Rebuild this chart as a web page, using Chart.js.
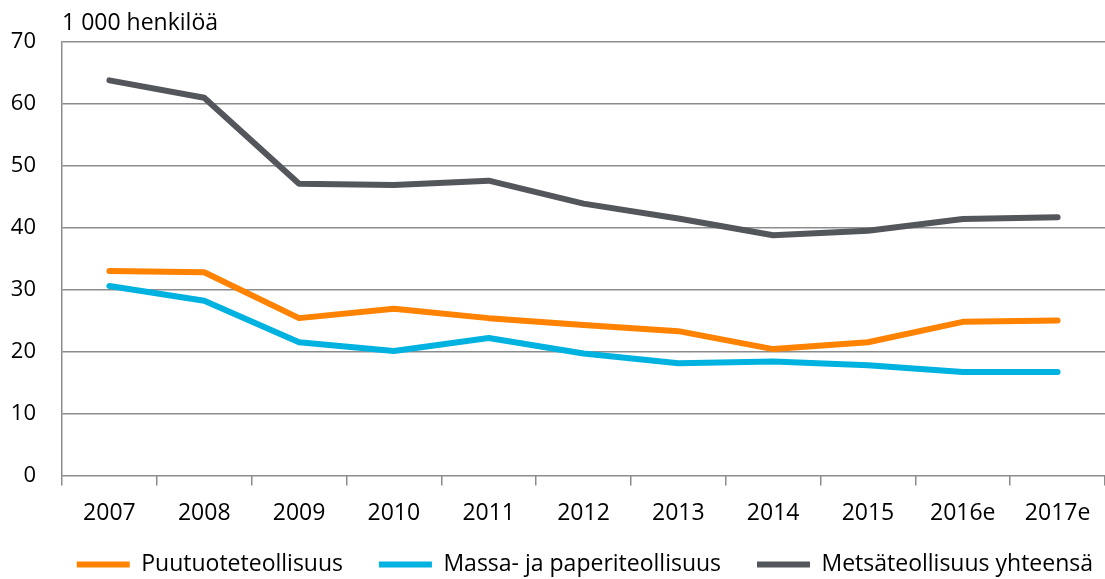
<!DOCTYPE html>
<html>
<head>
<meta charset="utf-8">
<script src="https://cdn.jsdelivr.net/npm/chart.js@4/dist/chart.umd.min.js"></script>
<style>
html,body{margin:0;padding:0;background:#fff;}
#wrap{width:1105px;height:579px;position:relative;}
</style>
</head>
<body>
<div id="wrap"><canvas id="c" width="1105" height="579"></canvas></div>
<script>
const categories = ["2007","2008","2009","2010","2011","2012","2013","2014","2015","2016e","2017e"];
const puutuote = [33.0, 32.8, 25.4, 26.9, 25.4, 24.3, 23.3, 20.4, 21.5, 24.8, 25.0];
const massaPaperi = [30.6, 28.2, 21.5, 20.1, 22.2, 19.7, 18.1, 18.4, 17.8, 16.7, 16.7];
const metsaYht = [63.8, 61.0, 47.1, 46.9, 47.6, 43.9, 41.5, 38.8, 39.5, 41.4, 41.7];
const seriesNames = ["Puutuoteteollisuus", "Massa- ja paperiteollisuus", "Metsäteollisuus yhteensä"];
const unitLabel = "1 000 henkilöä";
const yTicks = [0,10,20,30,40,50,60,70];

const FONT = "'Open Sans', sans-serif";
const gridColor = "#8c8c8c";

const unitPlugin = {
  id: 'unitLabel',
  afterDraw(chart) {
    const ctx = chart.ctx;
    ctx.save();
    ctx.font = "23px " + FONT;
    ctx.fillStyle = "#000";
    ctx.textBaseline = "alphabetic";
    ctx.textAlign = "left";
    ctx.fillText(unitLabel, chart.chartArea.left, 30);
    ctx.restore();
  }
};

function ds(label, data, color) {
  return {
    label, data,
    borderColor: color, backgroundColor: color,
    borderWidth: 6, pointRadius: 0, pointHoverRadius: 0,
    tension: 0, fill: false,
    borderCapStyle: 'round', borderJoinStyle: 'round'
  };
}

new Chart(document.getElementById('c'), {
  type: 'line',
  data: {
    labels: categories,
    datasets: [
      ds(seriesNames[0], puutuote, "#FF8200"),
      ds(seriesNames[1], massaPaperi, "#00B2E0"),
      ds(seriesNames[2], metsaYht, "#53565A")
    ]
  },
  options: {
    responsive: false,
    animation: false,
    devicePixelRatio: 1,
    layout: { padding: { top: 42, right: 0, left: 0, bottom: -7 } },
    plugins: {
      legend: {
        position: 'bottom',
        align: 'end',
        labels: {
          usePointStyle: true,
          pointStyle: 'line',
          pointStyleWidth: 53,
          color: '#000',
          font: { family: FONT, size: 23 },
          padding: 12,
          generateLabels(chart) {
            const items = Chart.defaults.plugins.legend.labels.generateLabels(chart);
            items.forEach((it, i) => { if (i < items.length - 1) it.text = it.text + "    "; });
            return items;
          }
        }
      },
      tooltip: { enabled: false },
      title: { display: false }
    },
    scales: {
      x: {
        type: 'category',
        offset: true,
        grid: {
          offset: true,
          drawOnChartArea: false,
          drawTicks: true,
          tickLength: 10,
          color: gridColor,
          lineWidth: 1.5
        },
        border: { display: false },
        ticks: {
          color: '#000',
          font: { family: FONT, size: 23 },
          padding: 14,
          maxRotation: 0,
          autoSkip: false
        }
      },
      y: {
        min: 0, max: 70,
        afterBuildTicks(axis) { axis.ticks = yTicks.map(v => ({ value: v })); },
        afterFit(axis) { axis.width = 62; },
        grid: {
          color: gridColor,
          lineWidth: 1.5,
          drawTicks: false
        },
        border: { display: true, color: gridColor, width: 1.5 },
        ticks: {
          color: '#000',
          font: { family: FONT, size: 22 },
          padding: 26
        }
      }
    }
  },
  plugins: [unitPlugin]
});
</script>
</body>
</html>
